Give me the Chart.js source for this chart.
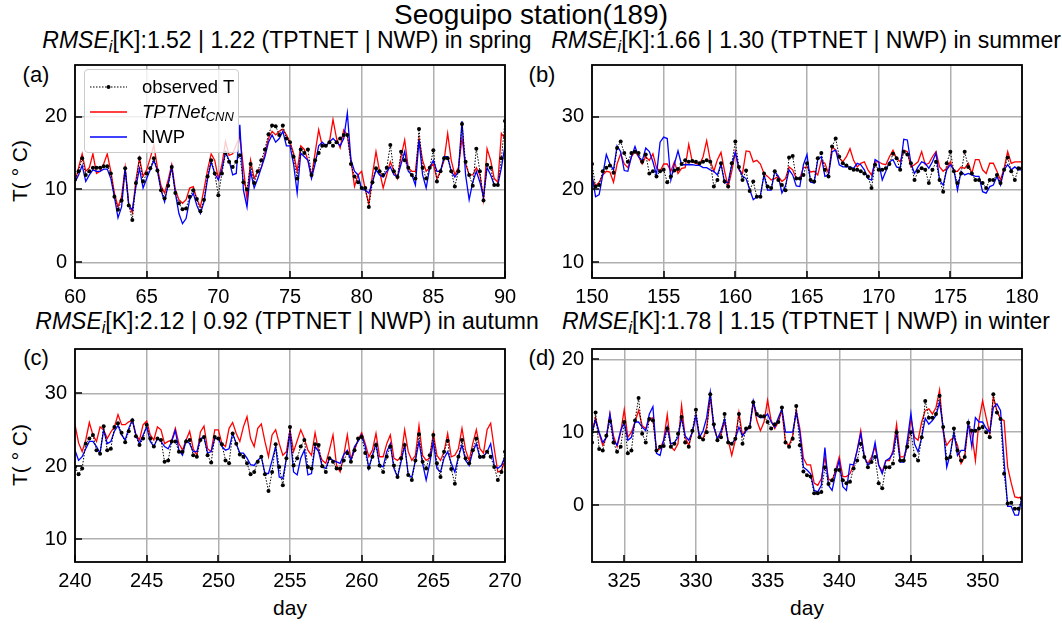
<!DOCTYPE html>
<html><head><meta charset="utf-8">
<script src="https://cdn.jsdelivr.net/npm/chart.js@4/dist/chart.umd.min.js"></script>
<style>
body{margin:0;background:#fff;width:1062px;height:624px;position:relative;overflow:hidden;font-family:"Liberation Sans",Arial,sans-serif;color:#000;}
.t{position:absolute;white-space:nowrap;transform:translate(-50%,-50%);line-height:1;}
canvas{position:absolute;}
sub{font-size:70%;vertical-align:-0.25em;}
#legend{position:absolute;left:84px;top:69px;width:155px;height:84px;background:rgba(255,255,255,0.8);border:1px solid #ccc;border-radius:4px;box-sizing:border-box;z-index:5;font-size:18.5px;}
#legend .row{position:absolute;left:0;height:20px;line-height:20px;}
#legend svg{position:absolute;left:5px;top:4px;}
#legend span{position:absolute;left:57px;top:0;white-space:nowrap;}
</style></head><body>
<div class="t" style="left:531px;top:15px;font-size:28px;">Seoguipo station(189)</div>
<div class="t" style="left:287px;top:42px;font-size:23px;"><i>RMSE<sub>i</sub></i>[K]:1.52 | 1.22 (TPTNET | NWP) in spring</div>
<div class="t" style="left:806px;top:42px;font-size:23px;"><i>RMSE<sub>i</sub></i>[K]:1.66 | 1.30 (TPTNET | NWP) in summer</div>
<div class="t" style="left:287px;top:323px;font-size:23px;"><i>RMSE<sub>i</sub></i>[K]:2.12 | 0.92 (TPTNET | NWP) in autumn</div>
<div class="t" style="left:806px;top:323px;font-size:23px;"><i>RMSE<sub>i</sub></i>[K]:1.78 | 1.15 (TPTNET | NWP) in winter</div>
<div class="t" style="left:36px;top:75px;font-size:22px;">(a)</div>
<div class="t" style="left:542px;top:75px;font-size:22px;">(b)</div>
<div class="t" style="left:36px;top:358px;font-size:22px;">(c)</div>
<div class="t" style="left:542px;top:358px;font-size:22px;">(d)</div>
<div class="t" style="left:19px;top:171px;font-size:21px;transform:translate(-50%,-50%) rotate(-90deg);">T( ° C)</div>
<div class="t" style="left:19px;top:455px;font-size:21px;transform:translate(-50%,-50%) rotate(-90deg);">T( ° C)</div>
<div class="t" style="left:290px;top:607px;font-size:21px;">day</div>
<div class="t" style="left:807px;top:607px;font-size:21px;">day</div>
<canvas id="ca"></canvas><canvas id="cb"></canvas><canvas id="cc"></canvas><canvas id="cd"></canvas>
<div id="legend">
 <div class="row" style="top:7px;"><svg width="40" height="12"><line x1="0" y1="6" x2="37" y2="6" stroke="#000" stroke-width="1" stroke-dasharray="1.5,1.5"/><circle cx="18.5" cy="6" r="2" fill="#000"/></svg><span>observed T</span></div>
 <div class="row" style="top:32px;"><svg width="40" height="12"><line x1="0" y1="6" x2="37" y2="6" stroke="red" stroke-width="1.3"/></svg><span><i>TPTNet<sub>CNN</sub></i></span></div>
 <div class="row" style="top:57px;"><svg width="40" height="12"><line x1="0" y1="6" x2="37" y2="6" stroke="blue" stroke-width="1.3"/></svg><span>NWP</span></div>
</div>
<script>
// ---- data: 6-hourly values (4 per day) ----
const springStart = 60;
const springObs = [
 11.4,12.5,14.3,12.0, 12.5,13.0,13.0,13.0, 13.2,13.2,12.2,9.0, 7.2,8.5,12.9,7.8, 5.8,10.9,14.3,11.1,
 12.2,12.9,14.3,12.6, 9.9,8.8,10.5,13.1, 9.5,8.1,7.3,7.4, 9.0,9.9,8.7,7.0, 8.6,11.8,14.0,12.2,
 9.2,12.2,15.0,13.8, 13.1,13.8,14.7,11.0, 10.0,13.5,10.9,12.5, 14.0,15.5,17.6,18.8, 18.7,17.5,18.8,17.0,
 16.5,14.5,11.5,15.5, 15.0,15.5,12.0,14.0, 15.0,16.0,16.0,16.5, 16.0,16.5,17.0,17.5, 17.5,13.5,11.8,11.0,
 10.2,10.2,7.6,11.0, 12.9,12.5,12.0,13.0, 16.1,12.5,11.7,15.2, 14.0,13.0,12.0,11.5, 18.3,13.0,11.5,13.0,
 15.4,11.1,12.5,14.3, 14.3,12.5,10.4,12.5, 19.0,13.8,12.0,10.5, 15.6,12.5,8.5,13.4, 13.0,10.6,10.6,14.3,
 19.4];
const springTPT = [
 11.0,13.0,14.9,12.5, 13.0,14.9,12.2,12.5, 13.5,14.9,12.5,9.5, 7.6,9.0,13.0,8.0, 6.8,11.3,14.3,11.8,
 12.7,14.3,16.1,13.0, 10.5,9.5,11.3,13.4, 10.0,8.6,8.1,8.6, 10.2,10.4,8.7,7.6, 10.0,12.7,14.9,14.0,
 11.5,13.4,16.6,14.7, 14.9,16.1,17.3,13.0, 8.6,14.0,11.5,12.5, 13.0,15.0,17.0,18.0, 17.5,18.0,18.3,17.5,
 16.5,15.0,12.5,16.0, 15.5,14.0,11.8,15.0, 18.2,16.0,16.0,16.5, 19.6,17.0,15.7,18.2, 17.5,14.1,10.4,12.0,
 12.5,10.0,8.0,12.0, 15.2,12.5,10.2,12.0, 13.8,12.5,11.5,14.5, 16.8,13.0,12.5,12.5, 17.0,14.0,12.5,13.0,
 13.5,11.5,12.5,14.0, 17.7,14.0,12.0,13.0, 17.0,13.5,12.0,12.0, 13.0,12.0,8.6,15.6, 14.0,11.5,11.0,17.7,
 17.0];
const springNWP = [
 11.0,12.0,13.3,11.1, 12.0,12.7,12.5,12.5, 12.8,12.8,11.5,9.0, 6.1,7.6,12.9,7.8, 7.2,10.4,12.9,10.2,
 11.5,12.7,14.0,12.6, 9.9,8.3,10.7,13.1, 9.5,6.7,5.3,6.0, 8.6,9.5,7.8,6.7, 8.3,11.5,13.8,12.2,
 11.3,12.7,15.2,14.0, 12.0,12.2,18.9,9.9, 7.6,12.5,10.2,11.5, 13.0,14.5,16.5,17.5, 16.5,17.0,18.0,16.0,
 16.0,13.5,9.5,15.0, 14.5,14.0,11.5,13.5, 16.0,16.5,16.0,16.5, 17.0,16.5,16.0,17.0, 20.5,14.1,12.5,12.0,
 10.0,9.9,9.5,11.0, 12.7,12.0,11.7,12.5, 13.1,12.0,11.7,13.5, 15.2,12.5,12.0,10.6, 16.8,12.0,10.2,13.0,
 14.0,12.5,12.5,14.5, 14.5,12.5,11.7,12.5, 19.4,12.0,8.6,11.0, 12.5,11.0,9.0,13.0, 12.0,10.6,10.6,13.0,
 16.0];

const summerStart = 150;
const summerObs = [
 23.5,20.4,20.6,22.5, 23.0,23.3,22.3,25.7, 26.6,25.0,23.8,25.0, 25.2,25.0,23.8,24.8, 22.2,22.5,21.8,22.5,
 22.7,21.0,21.8,22.6, 22.8,23.5,24.0,23.8, 23.9,23.8,23.6,23.8, 24.0,23.8,20.4,21.3, 23.6,21.1,20.4,23.6,
 26.6,23.1,21.3,22.6, 19.8,21.1,19.0,19.0, 22.2,20.4,20.2,22.5, 21.3,20.6,19.9,24.4, 24.6,21.5,21.5,22.0,
 23.6,21.3,21.1,24.3, 25.0,22.7,21.8,25.9, 27.0,24.5,23.6,23.3, 22.9,22.7,22.7,22.5, 22.2,21.8,20.2,23.4,
 22.7,22.7,22.9,23.5, 24.9,24.3,22.7,25.2, 24.8,23.6,21.3,22.5, 22.9,22.7,20.9,22.7, 23.8,21.3,19.7,23.6,
 25.2,22.5,20.9,22.2, 25.2,23.1,22.2,21.3, 21.3,20.9,20.2,21.3, 21.3,22.0,20.9,22.7, 24.4,22.5,21.3,22.9,
 22.9];
const summerTPT = [
 21.5,20.5,21.0,22.0, 22.5,22.4,21.0,23.5, 24.9,23.5,23.0,24.5, 25.2,24.5,23.5,24.5, 24.0,24.9,23.0,22.5,
 23.5,23.5,22.5,23.8, 22.2,22.9,23.0,26.2, 23.8,23.6,23.4,24.5, 26.7,24.0,22.5,24.1, 25.1,22.5,20.4,22.5,
 25.2,22.7,22.2,25.3, 25.2,23.8,24.0,23.5, 22.2,21.8,21.3,21.5, 21.8,21.1,21.5,23.1, 22.7,21.5,21.5,23.0,
 23.1,22.4,22.5,22.0, 24.0,23.6,22.2,25.9, 25.4,24.3,23.8,24.5, 25.6,24.0,23.1,23.6, 23.8,22.7,22.0,23.8,
 23.8,23.5,23.4,24.5, 25.4,24.3,23.8,25.4, 25.2,23.1,23.4,23.8, 25.2,23.4,23.6,24.5, 25.2,23.1,22.5,22.9,
 23.8,22.5,22.5,23.1, 22.9,23.6,22.2,24.1, 24.1,22.7,22.2,23.6, 23.6,22.5,21.3,22.9, 25.2,23.6,23.8,23.8,
 23.8];
const summerNWP = [
 22.0,19.0,19.3,22.0, 24.8,23.5,22.7,26.0, 25.2,22.6,22.5,24.5, 25.9,24.5,23.9,25.7, 25.2,23.8,22.0,26.5,
 27.2,27.0,21.3,23.5, 25.3,23.4,23.4,23.4, 23.4,23.3,23.3,23.0, 23.0,22.7,22.5,22.0, 23.5,20.9,21.0,23.4,
 25.1,22.9,21.8,21.5, 20.0,18.6,19.0,19.2, 22.0,19.9,19.9,22.5, 21.8,19.5,20.5,22.7, 22.0,20.5,20.4,23.4,
 24.8,21.0,20.9,24.1, 24.5,21.8,22.0,25.2, 25.4,23.4,23.1,23.1, 23.1,22.9,23.6,23.4, 22.7,21.5,21.3,24.1,
 23.8,21.3,22.5,23.8, 24.1,23.1,22.9,26.9, 26.8,23.6,22.2,23.1, 23.8,23.6,22.9,23.8, 25.0,21.3,20.6,22.7,
 23.4,22.7,19.9,22.5, 22.0,22.2,22.0,21.8, 21.8,19.7,19.5,20.4, 20.6,21.8,20.6,22.7, 23.4,22.7,23.1,22.7,
 22.7];

const autumnStart = 240;
const autumnObs = [
 19.9,18.9,19.7,23.1, 23.8,24.3,22.2,21.7, 25.5,22.2,22.4,25.4, 25.9,24.6,23.3,24.8, 26.3,24.1,22.9,23.8,
 25.7,23.8,22.7,23.8, 23.6,20.6,20.8,23.4, 23.4,22.0,22.0,23.4, 23.6,21.5,21.3,23.6, 24.0,21.5,20.5,24.0,
 23.8,23.0,20.8,20.4, 24.5,23.1,21.6,21.3, 20.4,18.9,19.2,20.6, 21.3,18.9,16.6,19.2, 23.0,19.9,17.4,21.1,
 25.4,20.1,21.1,22.7, 23.6,19.9,19.7,23.0, 22.9,20.0,19.2,21.1, 20.6,19.7,19.7,20.8, 21.8,20.6,22.2,23.8,
 24.0,21.8,19.8,21.3, 22.9,20.1,19.2,21.3, 22.7,20.1,18.5,21.1, 22.9,18.8,18.1,20.8, 24.4,20.6,19.7,21.5,
 24.3,20.4,18.5,22.0, 23.5,19.6,17.6,21.3, 23.6,21.1,20.4,22.2, 23.8,21.3,21.3,22.0, 21.3,19.9,18.1,19.2,
 22.0];
const autumnTPT = [
 25.7,23.2,22.0,23.6, 26.0,24.3,23.4,25.4, 25.0,23.8,24.7,25.4, 27.1,25.7,25.7,26.1, 26.3,24.3,23.6,25.7,
 26.2,24.3,23.6,25.4, 25.0,23.1,23.4,23.6, 25.2,23.1,22.2,23.6, 24.8,22.4,21.5,24.7, 25.5,22.4,22.0,25.0,
 25.0,23.1,22.7,25.2, 26.0,24.5,23.4,25.4, 26.8,23.8,22.7,25.2, 25.8,23.4,21.3,24.3, 25.0,23.1,21.5,22.0,
 25.0,22.0,23.5,25.0, 23.8,22.2,21.5,24.6, 22.0,20.8,20.4,22.2, 24.3,20.1,19.2,21.5, 24.3,20.8,22.2,23.6,
 24.6,23.1,21.3,22.2, 24.5,21.3,21.3,23.1, 24.3,21.1,20.8,21.3, 25.0,22.0,20.8,21.5, 25.6,21.5,20.8,21.1,
 24.5,21.5,20.8,22.0, 24.5,21.3,21.5,22.4, 25.2,22.2,20.8,23.1, 25.0,22.4,21.8,25.0, 25.9,22.4,19.2,19.4,
 20.8];
const autumnNWP = [
 22.2,20.8,21.3,22.4, 23.4,23.4,22.7,21.8, 25.0,23.1,23.4,24.8, 25.6,24.3,23.6,25.2, 26.4,24.3,23.1,24.3,
 25.4,23.4,22.7,23.8, 23.4,22.7,22.4,23.4, 24.9,22.2,21.5,23.6, 23.1,22.0,22.0,23.8, 24.0,21.8,22.0,23.8,
 23.8,22.7,22.2,22.4, 24.5,23.1,21.8,21.8, 21.1,20.2,20.1,20.8, 21.3,19.0,19.0,20.8, 22.7,18.5,18.3,21.1,
 24.5,19.2,18.8,21.1, 22.2,18.8,19.0,22.7, 22.0,19.9,19.7,21.1, 20.8,20.6,20.4,21.6, 22.2,20.8,22.7,23.4,
 24.3,22.7,19.7,21.5, 23.1,20.1,19.9,22.0, 23.1,19.7,18.5,20.6, 22.9,18.8,18.5,20.8, 23.4,20.4,18.1,20.4,
 23.4,19.7,19.2,21.1, 22.0,20.4,19.2,21.3, 22.9,20.8,20.1,22.0, 23.1,21.1,21.3,22.0, 23.1,20.1,19.7,20.1,
 21.3];

const winterStart = 322.75;
const winterObs = [
 8.6,
 12.7,7.7,7.5,9.5, 11.5,8.6,7.3,8.0, 11.4,7.1,7.5,11.6, 14.7,9.8,8.6,11.8, 11.6,7.5,8.0,8.1,
 10.5,8.0,8.4,9.8, 12.1,8.6,8.0,10.2, 13.1,9.3,9.0,10.0, 15.2,11.1,8.9,9.3, 12.5,8.6,8.4,9.1,
 12.5,8.4,10.5,10.7, 14.1,12.5,12.2,12.2, 11.4,10.5,11.1,11.4, 13.4,8.6,8.0,9.1, 13.6,8.2,4.6,4.1,
 3.9,1.6,1.6,1.8, 5.2,2.9,3.4,4.8, 4.8,3.4,3.0,3.2, 5.0,6.1,8.4,6.6, 5.2,5.9,6.6,3.0,
 2.3,5.2,5.2,5.7, 10.0,6.1,6.1,8.0, 10.0,6.8,6.1,9.3, 14.3,12.0,12.0,12.5, 15.0,10.7,6.4,6.6,
 10.5,7.5,6.1,6.6, 11.3,10.2,10.2,10.5, 10.7,10.0,9.3,15.2, 12.7,11.8,4.3,0.2, 0.3,-0.5,-0.5,0.9];
const winterTPT = [
 10.0,
 12.0,9.8,8.2,9.3, 12.5,9.5,8.0,10.0, 13.1,9.3,10.0,11.4, 13.0,10.9,10.5,11.8, 12.0,7.5,7.7,8.9,
 12.4,8.0,7.5,8.4, 13.7,9.3,8.2,10.0, 12.3,9.3,9.1,10.7, 14.8,10.7,9.1,9.8, 11.4,8.9,6.8,8.9,
 12.7,9.5,10.5,10.5, 14.1,11.6,10.2,11.4, 14.4,11.6,10.5,11.4, 13.0,8.6,8.2,9.5, 13.0,10.5,6.4,5.5,
 5.5,3.0,2.7,3.6, 6.6,3.6,3.2,4.8, 6.6,3.9,3.9,4.3, 5.5,7.5,10.2,6.6, 5.7,6.6,8.0,5.5,
 4.6,6.1,6.1,7.5, 11.1,6.6,6.6,8.0, 11.9,9.3,8.9,11.4, 13.0,13.2,12.5,13.4, 15.8,10.0,8.2,8.9,
 9.3,8.2,5.7,6.6, 11.1,9.8,6.1,11.6, 14.3,12.0,9.8,14.8, 13.0,11.8,11.6,5.2, 3.0,1.1,1.0,1.1];
const winterNWP = [
 10.0,
 11.6,10.0,8.6,9.3, 12.5,8.9,8.2,10.2, 11.4,8.9,9.3,11.4, 11.4,10.7,10.2,12.5, 13.5,7.1,6.8,8.9,
 10.7,8.4,8.6,9.3, 12.0,9.5,8.9,10.0, 12.3,9.3,10.2,12.0, 15.5,10.7,9.1,10.2, 11.8,8.6,8.4,9.1,
 10.7,9.5,10.2,10.7, 14.3,12.3,12.0,12.0, 12.5,11.4,10.7,12.0, 13.2,10.0,10.0,10.0, 12.7,10.0,5.2,4.8,
 4.3,2.0,1.8,2.7, 7.9,2.7,2.0,4.3, 6.1,2.5,2.0,5.6, 5.5,7.5,9.8,6.6, 5.5,6.1,8.6,5.5,
 4.3,6.1,6.4,7.1, 10.0,5.9,5.9,8.9, 12.6,8.4,7.3,9.3, 11.9,11.1,11.6,12.3, 14.1,10.7,5.2,7.1,
 10.0,6.8,7.5,7.5, 11.3,8.0,12.0,11.4, 11.4,10.5,10.0,13.4, 13.9,13.0,6.1,-0.2, -0.2,-1.4,-1.4,1.1];

// ---- tick labels ----
const springXTicks = [60,65,70,75,80,85,90];
const summerXTicks = [150,155,160,165,170,175,180];
const autumnXTicks = [240,245,250,255,260,265,270];
const winterXTicks = [325,330,335,340,345,350];
const springYTicks = [0,10,20];
const summerYTicks = [10,20,30];
const autumnYTicks = [10,20,30];
const winterYTicks = [0,10,20];

// ---- layout ----
const FONT = '"Liberation Sans", Arial, sans-serif';
const PW = 430, PH = 213, ML = 70, MT = 12, MR = 25, MB = 40;
const STEP = 0.25; // 6-hourly samples

const panels = [
 {id:'ca', left:75,  top:65,  xmin:60, xmax:90,  ymin:-2.16, ymax:27.1, start:springStart, obs:springObs, tpt:springTPT, nwp:springNWP, xt:springXTicks, yt:springYTicks},
 {id:'cb', left:592, top:65,  xmin:150, xmax:180, ymin:7.84, ymax:37.1, start:summerStart, obs:summerObs, tpt:summerTPT, nwp:summerNWP, xt:summerXTicks, yt:summerYTicks},
 {id:'cc', left:75,  top:349, xmin:240, xmax:270, ymin:6.84, ymax:36.1, start:autumnStart, obs:autumnObs, tpt:autumnTPT, nwp:autumnNWP, xt:autumnXTicks, yt:autumnYTicks},
 {id:'cd', left:592, top:349, xmin:322.75, xmax:352.75, ymin:-7.83, ymax:21.43, start:winterStart, obs:winterObs, tpt:winterTPT, nwp:winterNWP, xt:winterXTicks, yt:winterYTicks}
];

const framePlugin = {
  id:'frame',
  afterDatasetsDraw(chart){
    const {ctx, chartArea:a, scales:{x,y}} = chart;
    ctx.save();
    ctx.strokeStyle = '#000';
    ctx.lineWidth = 1.5;
    ctx.beginPath();
    x.ticks.forEach(t => { const px = Math.round(x.getPixelForValue(t.value)); ctx.moveTo(px, a.bottom); ctx.lineTo(px, a.bottom - 7); });
    y.ticks.forEach(t => { const py = Math.round(y.getPixelForValue(t.value)); ctx.moveTo(a.left, py); ctx.lineTo(a.left + 7, py); });
    ctx.stroke();
    ctx.lineWidth = 1.8;
    ctx.strokeRect(a.left, a.top, a.right - a.left, a.bottom - a.top);
    ctx.restore();
  }
};

const toXY = (arr, start) => arr.map((v, i) => ({x: start + i * STEP, y: v}));

panels.forEach(p => {
  const cv = document.getElementById(p.id);
  const W = PW + ML + MR, H = PH + MT + MB;
  cv.width = W; cv.height = H;
  cv.style.left = (p.left - ML) + 'px';
  cv.style.top = (p.top - MT) + 'px';
  cv.style.width = W + 'px'; cv.style.height = H + 'px';
  new Chart(cv.getContext('2d'), {
    type: 'line',
    data: {
      datasets: [
        {label:'observed T', data: toXY(p.obs, p.start), borderColor:'#000', borderWidth:1, borderDash:[1.5,1.5],
         pointRadius:2, pointBackgroundColor:'#000', pointBorderWidth:0, tension:0, fill:false},
        {label:'NWP', data: toXY(p.nwp, p.start), borderColor:'#0000ff', borderWidth:1.3, pointRadius:0, tension:0, fill:false},
        {label:'TPTNet_CNN', data: toXY(p.tpt, p.start), borderColor:'#ff0000', borderWidth:1.3, pointRadius:0, tension:0, fill:false}
      ]
    },
    options: {
      responsive:false, animation:false, devicePixelRatio:1,
      layout:{padding:{left:0, top:MT, right:MR, bottom:0}},
      plugins:{legend:{display:false}, tooltip:{enabled:false}, title:{display:false}},
      scales:{
        x:{type:'linear', min:p.xmin, max:p.xmax,
           afterBuildTicks: s => { s.ticks = p.xt.map(v => ({value:v})); },
           afterFit: s => { s.height = MB; s.paddingLeft = 0; s.paddingRight = 0; },
           grid:{color:'#b0b0b0', lineWidth:1.5, drawTicks:false},
           border:{display:false},
           ticks:{padding:7, color:'#000', font:{family:FONT, size:20}, maxRotation:0, autoSkip:false, callback: v => String(v)}},
        y:{type:'linear', min:p.ymin, max:p.ymax,
           afterBuildTicks: s => { s.ticks = p.yt.map(v => ({value:v})); },
           afterFit: s => { s.width = ML; s.paddingTop = 0; s.paddingBottom = 0; },
           grid:{color:'#b0b0b0', lineWidth:1.5, drawTicks:false},
           border:{display:false},
           ticks:{padding:8, color:'#000', font:{family:FONT, size:20}, callback: v => String(v)}}
      }
    },
    plugins:[framePlugin]
  });
});
</script>
</body></html>
